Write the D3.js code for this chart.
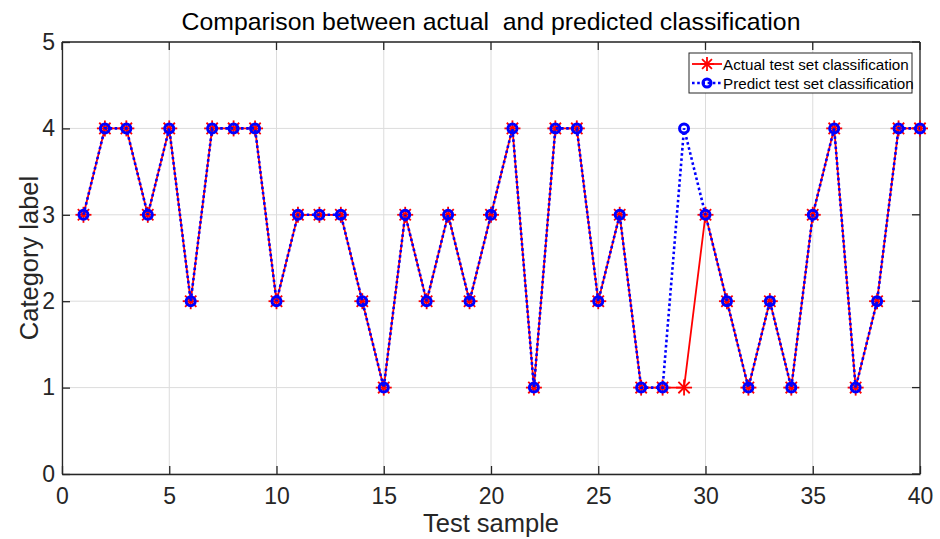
<!DOCTYPE html>
<html>
<head>
<meta charset="utf-8">
<script src="https://cdn.jsdelivr.net/npm/d3@7"></script>
<style>
  body { margin: 0; background: #fff; }
  text { font-family: "Liberation Sans", Arial, sans-serif; }
</style>
</head>
<body>
<svg width="940" height="539"></svg>
<script>
var samples = d3.range(1, 41);
var actual = [3,4,4,3,4,2,4,4,4,2, 3,3,3,2,1,3,2,3,2,3, 4,1,4,4,2,3,1,1,1,3, 2,1,2,1,3,4,1,2,4,4];
var predicted = [3,4,4,3,4,2,4,4,4,2, 3,3,3,2,1,3,2,3,2,3, 4,1,4,4,2,3,1,1,4,3, 2,1,2,1,3,4,1,2,4,4];
var xTicks = [0, 5, 10, 15, 20, 25, 30, 35, 40];
var yTicks = [0, 1, 2, 3, 4, 5];

(function() {
var svg = d3.select("svg"),
    pl = 62, pt = 42, pr = 920, pb = 474;

var x = d3.scaleLinear().domain([0, 40]).range([pl, pr]);
var y = d3.scaleLinear().domain([0, 5]).range([pb, pt]);

// grid
var grid = svg.append("g").attr("stroke", "#dcdcdc").attr("stroke-width", 1);
grid.selectAll(".gx").data(xTicks).enter().append("line")
    .attr("x1", function(d) { return x(d); }).attr("x2", function(d) { return x(d); })
    .attr("y1", pt).attr("y2", pb);
grid.selectAll(".gy").data(yTicks).enter().append("line")
    .attr("x1", pl).attr("x2", pr)
    .attr("y1", function(d) { return y(d); }).attr("y2", function(d) { return y(d); });

// axes, ticks pointing inward
var xAxis = svg.append("g").attr("transform", "translate(0," + pb + ")")
    .call(d3.axisBottom(x).tickValues(xTicks).tickFormat(d3.format("d"))
        .tickSizeInner(-8).tickSizeOuter(0).tickPadding(12));
var yAxis = svg.append("g").attr("transform", "translate(" + pl + ",0)")
    .call(d3.axisLeft(y).tickValues(yTicks).tickFormat(d3.format("d"))
        .tickSizeInner(-8).tickSizeOuter(0).tickPadding(7));
[xAxis, yAxis].forEach(function(a) {
    a.attr("font-size", null).attr("font-family", null);
    a.select(".domain").attr("stroke", "#262626").attr("stroke-width", 1.3);
    a.selectAll(".tick line").attr("stroke", "#262626").attr("stroke-width", 1.3);
    a.selectAll(".tick text").attr("fill", "#262626").style("font-size", "23px");
});
xAxis.selectAll(".tick text").attr("dy", "0.8em");

// top/right box
svg.append("line").attr("x1", pl).attr("x2", pr).attr("y1", pt).attr("y2", pt)
    .attr("stroke", "#262626").attr("stroke-width", 1.3);
svg.append("line").attr("x1", pr).attr("x2", pr).attr("y1", pt).attr("y2", pb)
    .attr("stroke", "#262626").attr("stroke-width", 1.3);
xTicks.forEach(function(d) {
    svg.append("line").attr("x1", x(d)).attr("x2", x(d)).attr("y1", pt).attr("y2", pt + 8)
        .attr("stroke", "#262626").attr("stroke-width", 1.3);
});
yTicks.forEach(function(d) {
    svg.append("line").attr("x1", pr).attr("x2", pr - 8).attr("y1", y(d)).attr("y2", y(d))
        .attr("stroke", "#262626").attr("stroke-width", 1.3);
});

// lines
var line = d3.line().x(function(d) { return x(d[0]); }).y(function(d) { return y(d[1]); });
var actPts = samples.map(function(s, i) { return [s, actual[i]]; });
var predPts = samples.map(function(s, i) { return [s, predicted[i]]; });

svg.append("path").datum(actPts).attr("d", line)
    .attr("fill", "none").attr("stroke", "#ff0000").attr("stroke-width", 1.8);

function star(g, cx, cy, r) {
    for (var k = 0; k < 4; k++) {
        var a = k * Math.PI / 4;
        g.append("line")
            .attr("x1", cx - r * Math.cos(a)).attr("y1", cy - r * Math.sin(a))
            .attr("x2", cx + r * Math.cos(a)).attr("y2", cy + r * Math.sin(a))
            .attr("stroke", "#ff0000").attr("stroke-width", 1.8);
    }
}
var stars = svg.append("g");
actPts.forEach(function(d) { star(stars, x(d[0]), y(d[1]), 8); });

svg.append("path").datum(predPts).attr("d", line)
    .attr("fill", "none").attr("stroke", "#0000ff").attr("stroke-width", 2.6)
    .attr("stroke-dasharray", "2.6,2.6");

svg.append("g").selectAll("circle").data(predPts).enter().append("circle")
    .attr("cx", function(d) { return x(d[0]); })
    .attr("cy", function(d) { return y(d[1]); })
    .attr("r", 4.5)
    .attr("fill", "none").attr("stroke", "#0000ff").attr("stroke-width", 3);

// title and labels
svg.append("text").attr("x", (pl + pr) / 2).attr("y", 30).attr("text-anchor", "middle")
    .style("font-size", "24.8px").style("white-space", "pre").attr("fill", "#000")
    .text("Comparison between actual  and predicted classification");
svg.append("text").attr("x", (pl + pr) / 2).attr("y", 532).attr("text-anchor", "middle")
    .style("font-size", "25.5px").attr("fill", "#262626").text("Test sample");
svg.append("text").attr("transform", "translate(38," + (pt + pb) / 2 + ")rotate(-90)")
    .attr("text-anchor", "middle").style("font-size", "25.5px").attr("fill", "#262626")
    .text("Category label");

// legend
var lg = svg.append("g").attr("transform", "translate(689,53)");
lg.append("rect").attr("width", 223).attr("height", 40)
    .attr("fill", "#fff").attr("stroke", "#262626").attr("stroke-width", 1);
lg.append("line").attr("x1", 3).attr("x2", 33).attr("y1", 11).attr("y2", 11)
    .attr("stroke", "#ff0000").attr("stroke-width", 1.8);
star(lg, 18, 11, 7);
lg.append("line").attr("x1", 3).attr("x2", 33).attr("y1", 30).attr("y2", 30)
    .attr("stroke", "#0000ff").attr("stroke-width", 2.6).attr("stroke-dasharray", "2.6,2.6");
lg.append("circle").attr("cx", 18).attr("cy", 30).attr("r", 4)
    .attr("fill", "none").attr("stroke", "#0000ff").attr("stroke-width", 3);
lg.append("text").attr("x", 34).attr("y", 16.5).style("font-size", "15.2px").attr("fill", "#000")
    .text("Actual test set classification");
lg.append("text").attr("x", 34).attr("y", 35.5).style("font-size", "15.2px").attr("fill", "#000")
    .text("Predict test set classification");
})();
</script>
</body>
</html>
